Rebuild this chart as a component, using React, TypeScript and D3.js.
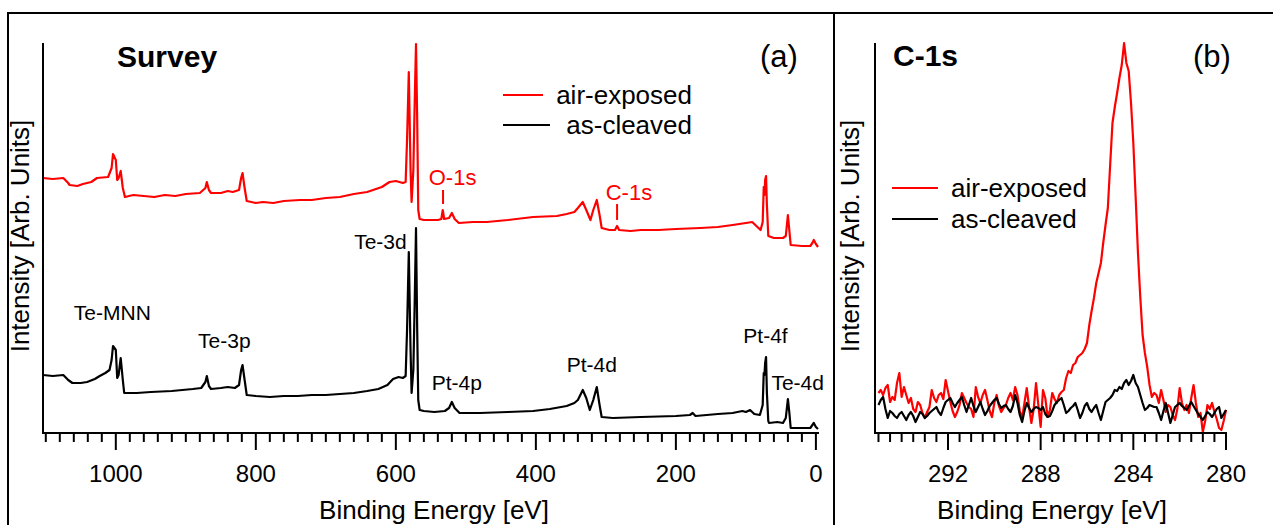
import * as d3 from 'd3';

// survey spectra: [binding energy eV, intensity arb.]
const SURVEY_AIR: [number, number][] = [
  [1104, 255], [1090, 254], [1075, 255], [1068, 250], [1066, 248], [1055, 247], [1047, 249],
  [1035, 251], [1027, 255], [1011, 256],
  [1006, 265], [1004, 279], [1002, 276], [1000, 273], [998, 253], [996, 255], [993, 262],
  [990, 245], [987, 236], [975, 238], [960, 237], [945, 236], [930, 238], [915, 237],
  [900, 239], [880, 240], [872, 245],
  [870, 251], [867, 243], [864, 240], [850, 240], [840, 242], [833, 241], [824, 243], [821, 255],
  [819, 260], [816, 245], [813, 232], [800, 230], [790, 231], [775, 230], [760, 232], [737, 233],
  [720, 233], [700, 235], [680, 236],
  [660, 239], [641, 241], [620, 246], [609, 251], [600, 252], [590, 250], [586, 251],
  [584, 293], [581.5, 361], [579, 263], [577.5, 231], [575, 263], [573, 333], [571.2, 389],
  [569.5, 313], [568, 223], [566, 214], [560, 213], [540, 213], [535, 214], [533, 223],
  [531, 214], [524, 215], [520, 220], [516, 214], [510, 210], [490, 211], [470, 211], [440, 213],
  [404, 216], [370, 217], [356, 219], [345, 221], [340, 225], [333, 231], [328, 223], [322, 213],
  [318, 223], [313, 233], [309, 218], [306, 205], [295, 203], [287, 203], [284, 207],
  [281, 203], [265, 202], [250, 203], [225, 203], [200, 204], [165, 205], [140, 206],
  [119, 208], [100, 210], [91, 211],
  [85, 207], [79, 203], [76, 211], [74.5, 246], [73.5, 238], [72.5, 253], [71.2, 257],
  [70, 228], [68, 197], [60, 195], [47, 195], [43, 197], [40, 218], [38, 203], [36, 188],
  [20, 187], [8, 187], [5, 190], [3, 193], [0, 189], [-3, 186],
];

const SURVEY_CLEAVED: [number, number][] = [
  [1104, 58], [1090, 57], [1075, 58], [1068, 53], [1062, 50], [1050, 50], [1041, 51], [1030, 54],
  [1023, 57], [1015, 60], [1009, 63], [1006, 73], [1004, 87], [1002, 85], [1000, 83],
  [998, 55], [996, 58], [993, 75], [990, 53], [988, 40], [970, 40], [950, 41], [920, 42],
  [890, 44], [878, 45], [872, 51], [870, 57], [867, 47], [864, 44], [850, 45], [840, 46],
  [830, 45], [824, 48], [821, 63], [819, 68], [816, 53], [813, 38], [800, 37], [780, 36],
  [760, 37], [740, 37], [720, 38], [700, 38], [680, 39], [660, 40], [641, 42], [625, 44],
  [612, 48], [604, 54], [596, 56],
  [590, 55], [586, 57], [584, 103], [581.5, 181], [579, 83], [577.5, 40], [575, 63],
  [573, 133], [571.2, 205], [569.5, 103], [568, 33], [566, 23], [560, 22], [545, 21],
  [530, 22], [524, 25], [520, 31], [516, 25], [509, 20], [480, 20], [440, 21], [404, 22],
  [380, 24], [356, 27], [345, 30], [340, 33], [333, 43], [328, 35], [323, 23], [318, 33],
  [313, 46], [309, 28], [306, 16], [290, 15], [250, 16], [200, 17], [180, 18], [176, 20],
  [172, 17], [140, 19], [119, 20], [105, 22], [100, 21], [94, 23], [88, 19], [80, 18],
  [76, 28], [74.5, 60], [73.5, 58], [72.5, 70], [71.2, 76], [70, 40], [68, 12], [67, 10],
  [55, 11], [47, 10], [43, 15], [40, 34], [38, 21], [36, 5], [20, 5], [8, 5], [5, 8],
  [3, 10], [0, 6], [-3, 4],
];

// C-1s detail: sampled from 295.0 eV down to 280.0 eV in 0.1 eV steps
const C1S_START = 295.0;
const C1S_STEP = 0.1;

const C1S_AIR: number[] = [
  40, 43, 38, 45, 48, 31, 36, 33, 50, 60,
  36, 46, 38, 30, 35, 24, 21, 31, 28, 20,
  15, 21, 26, 43, 35, 31, 38, 40, 34, 53,
  42, 31, 22, 16, 21, 28, 40, 35, 30, 26,
  24, 16, 46, 36, 30, 38, 43, 33, 22, 16,
  30, 38, 27, 21, 25, 28, 35, 40, 33, 46,
  38, 22, 15, 30, 45, 26, 10, 24, 50, 28,
  6, 43, 35, 16, 23, 40, 34, 30, 38, 41,
  43, 55, 62, 60, 68, 70, 76, 78, 80, 84,
  90, 108, 122, 135, 150, 160, 170, 190, 208, 225,
  268, 310, 326, 340, 355, 368, 390, 370, 362, 330,
  290, 236, 180, 136, 98, 80, 66, 48, 36, 40,
  38, 30, 43, 33, 21, 28, 26, 18, 13, 24,
  45, 30, 23, 28, 20, 35, 48, 30, 16, 20,
  1, 12, 28, 24, 30, 21, 14, 5, 3, 12,
  23,
];

const C1S_CLEAVED: number[] = [
  28, 33, 36, 24, 15, 22, 20, 17, 15, 19,
  21, 17, 13, 18, 21, 17, 11, 16, 21, 19,
  15, 17, 20, 22, 24, 26, 21, 18, 25, 31,
  33, 35, 30, 26, 30, 33, 36, 28, 21, 28,
  35, 27, 21, 26, 31, 24, 18, 22, 27, 30,
  33, 35, 29, 25, 27, 28, 24, 21, 27, 38,
  30, 18, 11, 22, 30, 25, 21, 24, 26, 25,
  23, 26, 19, 16, 17, 22, 28, 31, 33, 35,
  28, 20, 22, 25, 27, 30, 23, 15, 20, 27,
  30, 24, 21, 25, 28, 20, 13, 22, 31, 33,
  35, 38, 43, 42, 46, 44, 50, 53, 48, 52,
  58, 50, 46, 38, 30, 23, 25, 28, 27, 26,
  26, 20, 13, 22, 30, 20, 10, 18, 26, 28,
  30, 27, 25, 23, 27, 31, 27, 23, 19, 16,
  13, 17, 21, 19, 16, 20, 24, 26, 15, 19,
  23,
];

const SURVEY_TICKS = [1000, 800, 600, 400, 200, 0];
const C1S_TICKS = [292, 288, 284, 280];

// peak labels in the survey: [text, energy, intensity]
const BLACK_LABELS: [string, number, number][] = [
  ['Te-MNN', 1005, 113],
  ['Te-3p', 845, 85],
  ['Te-3d', 622, 184],
  ['Pt-4p', 513, 43],
  ['Pt-4d', 320, 61],
  ['Pt-4f', 72, 90],
  ['Te-4d', 26, 43],
];
const RED_LABELS: [string, number, number][] = [
  ['O-1s', 519, 248],
  ['C-1s', 267, 233],
];
const RED_MARKS: [number, number, number][] = [
  [532.6, 229, 243],
  [284, 213, 229],
];

const SERIES = ['air-exposed', 'as-cleaved'];
const COLORS = ['#ff0000', '#000000'];

const FONT = "'Liberation Sans', Arial, Helvetica, sans-serif";

export default function App() {
  const W = 1273;
  const H = 525;
  const top = 43;
  const bottom = 433;

  const y = d3.scaleLinear().domain([0, 390]).range([bottom, top]);

  // panel (a)
  const xa = d3.scaleLinear().domain([1104, -3]).range([43, 818]);
  const lineA = d3.line<[number, number]>()
    .x(d => xa(d[0]))
    .y(d => y(d[1]));
  const minorA = d3.range(1100, -1, -20);

  // panel (b)
  const xb = d3.scaleLinear().domain([295.15, 280]).range([875, 1226]);
  const lineB = d3.line<number>()
    .x((_, i) => xb(C1S_START - i * C1S_STEP))
    .y(d => y(d));
  const minorB = d3.range(295, 279.9, -0.5);

  const axisStroke = 2;

  return (
    <svg width={W} height={H} style={{ position: 'absolute', left: 0, top: 0, background: '#fff' }}
      fontFamily={FONT}>
      {/* outer frame */}
      <rect x={8} y={13} width={W + 20} height={H + 20} fill="none" stroke="#000" strokeWidth={2} />
      <line x1={834} x2={834} y1={13} y2={H + 5} stroke="#000" strokeWidth={2} />

      {/* ---------- panel (a) ---------- */}
      <path d={lineA(SURVEY_AIR) || ''} fill="none" stroke={COLORS[0]} strokeWidth={2.2} strokeLinejoin="round" />
      <path d={lineA(SURVEY_CLEAVED) || ''} fill="none" stroke={COLORS[1]} strokeWidth={2.2} strokeLinejoin="round" />

      <line x1={43} x2={43} y1={top} y2={bottom} stroke="#000" strokeWidth={axisStroke} />
      <line x1={42} x2={819} y1={bottom} y2={bottom} stroke="#000" strokeWidth={axisStroke} />
      {minorA.map(v => (
        <line key={v} x1={xa(v)} x2={xa(v)} y1={bottom} y2={bottom + (v % 200 === 0 ? 17 : 9)}
          stroke="#000" strokeWidth={2} />
      ))}
      {SURVEY_TICKS.map(v => (
        <text key={v} x={xa(v)} y={482} textAnchor="middle" fontSize={24}>{v}</text>
      ))}
      <text x={434} y={519} textAnchor="middle" fontSize={26}>Binding Energy [eV]</text>
      <text transform="translate(29,236) rotate(-90)" textAnchor="middle" fontSize={26}>
        Intensity [Arb. Units]
      </text>
      <text x={117} y={67} fontSize={30} fontWeight="bold">Survey</text>
      <text x={779} y={67} textAnchor="middle" fontSize={31}>(a)</text>

      {/* legend (a) */}
      <line x1={503} x2={543} y1={95} y2={95} stroke={COLORS[0]} strokeWidth={2} />
      <text x={692} y={104} textAnchor="end" fontSize={26}>{SERIES[0]}</text>
      <line x1={503} x2={550} y1={125} y2={125} stroke={COLORS[1]} strokeWidth={2} />
      <text x={692} y={134} textAnchor="end" fontSize={26}>{SERIES[1]}</text>

      {BLACK_LABELS.map(([t, e, v]) => (
        <text key={t} x={xa(e)} y={y(v)} textAnchor="middle" fontSize={21}>{t}</text>
      ))}
      {RED_LABELS.map(([t, e, v]) => (
        <text key={t} x={xa(e)} y={y(v)} textAnchor="middle" fontSize={22} fill={COLORS[0]}>{t}</text>
      ))}
      {RED_MARKS.map(([e, v0, v1]) => (
        <line key={e} x1={xa(e)} x2={xa(e)} y1={y(v0)} y2={y(v1)} stroke={COLORS[0]} strokeWidth={2} />
      ))}

      {/* ---------- panel (b) ---------- */}
      <path d={lineB(C1S_AIR) || ''} fill="none" stroke={COLORS[0]} strokeWidth={2.2} strokeLinejoin="round" />
      <path d={lineB(C1S_CLEAVED) || ''} fill="none" stroke={COLORS[1]} strokeWidth={2.2} strokeLinejoin="round" />

      <line x1={875} x2={875} y1={top} y2={bottom} stroke="#000" strokeWidth={axisStroke} />
      <line x1={874} x2={1227} y1={bottom} y2={bottom} stroke="#000" strokeWidth={axisStroke} />
      {minorB.map(v => (
        <line key={v} x1={xb(v)} x2={xb(v)} y1={bottom}
          y2={bottom + (Math.abs(v % 4) < 0.01 ? 17 : 9)} stroke="#000" strokeWidth={2} />
      ))}
      {C1S_TICKS.map(v => (
        <text key={v} x={xb(v)} y={482} textAnchor="middle" fontSize={24}>{v}</text>
      ))}
      <text x={1052} y={519} textAnchor="middle" fontSize={26}>Binding Energy [eV]</text>
      <text transform="translate(859,236) rotate(-90)" textAnchor="middle" fontSize={26}>
        Intensity [Arb. Units]
      </text>
      <text x={893} y={66} fontSize={30} fontWeight="bold">C-1s</text>
      <text x={1212} y={67} textAnchor="middle" fontSize={31}>(b)</text>

      {/* legend (b) */}
      <line x1={892} x2={938} y1={188} y2={188} stroke={COLORS[0]} strokeWidth={2} />
      <text x={951} y={197} fontSize={26}>{SERIES[0]}</text>
      <line x1={892} x2={938} y1={219} y2={219} stroke={COLORS[1]} strokeWidth={2} />
      <text x={951} y={228} fontSize={26}>{SERIES[1]}</text>
    </svg>
  );
}
